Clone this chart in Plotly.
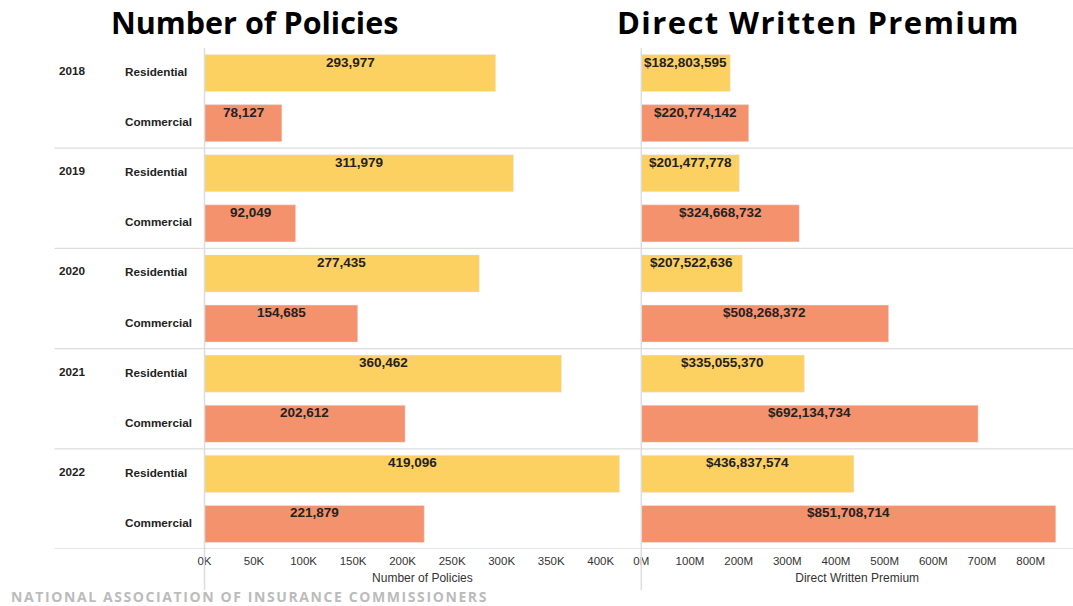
import plotly.graph_objects as go

years = ["2018", "2019", "2020", "2021", "2022"]
types = ["Residential", "Commercial"]
policies = {
    "Residential": [293977, 311979, 277435, 360462, 419096],
    "Commercial": [78127, 92049, 154685, 202612, 221879],
}
premium = {
    "Residential": [182803595, 201477778, 207522636, 335055370, 436837574],
    "Commercial": [220774142, 324668732, 508268372, 692134734, 851708714],
}
pol_tickvals = [0, 50000, 100000, 150000, 200000, 250000, 300000, 350000, 400000]
pol_ticktext = ["0K", "50K", "100K", "150K", "200K", "250K", "300K", "350K", "400K"]
prem_tickvals = [0, 1e8, 2e8, 3e8, 4e8, 5e8, 6e8, 7e8, 8e8]
prem_ticktext = ["0M", "100M", "200M", "300M", "400M", "500M", "600M", "700M", "800M"]
colors = {"Residential": "#FDD062", "Commercial": "#F5926E"}

W, H = 1073, 606
def px(x):
    # horizontal pixel -> paper fraction (with small viewer offset compensation)
    return min(1.0, max(0.0, (x - 7.4) / 0.993 / W))
def py(y): return (H - y) / H

cats = []
for y in years:
    for t in types:
        cats.append(f"{y}|{t}")

fig = go.Figure()
for t in types:
    ycats = [f"{y}|{t}" for y in years]
    fig.add_trace(go.Bar(y=ycats, x=policies[t], orientation="h", marker_color=colors[t],
                         width=0.74, xaxis="x", yaxis="y", showlegend=False, hoverinfo="x"))
    fig.add_trace(go.Bar(y=ycats, x=premium[t], orientation="h", marker_color=colors[t],
                         width=0.74, xaxis="x2", yaxis="y2", showlegend=False, hoverinfo="x"))

ann = []
lab_font = dict(family="Liberation Sans, Arial", size=13.5, color="#222222")
row_font = dict(family="Liberation Sans, Arial", size=11.7, color="#222222")
for t in types:
    for i, y in enumerate(years):
        c = f"{y}|{t}"
        v = policies[t][i]
        ann.append(dict(x=v / 2, y=c, xref="x", yref="y", text=f"<b>{v:,}</b>", showarrow=False,
                        xanchor="center", yanchor="middle", yshift=11, font=lab_font))
        v2 = premium[t][i]
        ann.append(dict(x=v2 / 2, y=c, xref="x2", yref="y2", text=f"<b>${v2:,}</b>", showarrow=False,
                        xanchor="center", yanchor="middle", yshift=11, font=lab_font))
        ann.append(dict(x=px(122), y=c, xref="paper", yref="y", text=f"<b>{t}</b>", showarrow=False,
                        xanchor="left", yanchor="middle", yshift=1.5, font=row_font))
        if t == "Residential":
            ann.append(dict(x=px(56), y=c, xref="paper", yref="y", text=f"<b>{y}</b>", showarrow=False,
                            xanchor="left", yanchor="middle", yshift=2.5, font=row_font))

ann.append(dict(x=px(254), y=py(22), xref="paper", yref="paper", text="<b>Number of Policies</b>",
                xanchor="center", yanchor="middle",
                showarrow=False, font=dict(family="Open Sans", size=30.5, color="#000000")))
ann.append(dict(x=px(818), y=py(22), xref="paper", yref="paper",
                text='<span style="letter-spacing:1.4px"><b>Direct Written Premium</b></span>',
                xanchor="center", yanchor="middle",
                showarrow=False, font=dict(family="Open Sans", size=31, color="#000000")))
ann.append(dict(x=px(8), y=py(596), xref="paper", yref="paper", xanchor="left", yanchor="middle",
                text='<span style="letter-spacing:1.6px"><b>NATIONAL ASSOCIATION OF INSURANCE COMMISSIONERS</b></span>',
                showarrow=False, font=dict(family="Open Sans", size=14, color="#BBBBBB")))

shapes = []
for b in [1.5, 3.5, 5.5, 7.5, 9.5]:
    shapes.append(dict(type="line", xref="paper", yref="y", x0=px(54), x1=1, y0=b, y1=b,
                       line=dict(color="#DDDDDD", width=1.3)))
for xv in [204, 641]:
    shapes.append(dict(type="line", xref="paper", yref="paper", x0=px(xv), x1=px(xv),
                       y0=py(590), y1=py(48), line=dict(color="#DDDDDD", width=1.5)))

tickfont = dict(family="Liberation Sans, Arial", size=11.5, color="#333333")
titlefont = dict(family="Liberation Sans, Arial", size=12, color="#333333")
ydom = [py(549), py(48)]
fig.update_layout(
    width=W, height=H, margin=dict(l=0, r=0, t=0, b=0),
    paper_bgcolor="white", plot_bgcolor="white", bargap=0.26,
    xaxis=dict(domain=[px(204), px(640)], range=[0, 440000], tickvals=pol_tickvals, ticktext=pol_ticktext,
               showgrid=False, zeroline=False, showline=False, tickfont=tickfont, ticks="",
               ticklabelstandoff=3,
               title=dict(text="Number of Policies", font=titlefont, standoff=8), anchor="y", fixedrange=True),
    xaxis2=dict(domain=[px(641), 1], range=[0, 887e6], tickvals=prem_tickvals, ticktext=prem_ticktext,
                showgrid=False, zeroline=False, showline=False, tickfont=tickfont, ticks="",
                ticklabelstandoff=3,
                title=dict(text="Direct Written Premium", font=titlefont, standoff=8), anchor="y2", fixedrange=True),
    yaxis=dict(domain=ydom, type="category", categoryorder="array", categoryarray=cats,
               range=[9.5, -0.5], showticklabels=False, showgrid=False, zeroline=False, anchor="x"),
    yaxis2=dict(domain=ydom, type="category", categoryorder="array", categoryarray=cats,
                range=[9.5, -0.5], showticklabels=False, showgrid=False, zeroline=False, anchor="x2"),
    annotations=ann, shapes=shapes,
)
post = ("document.documentElement.style.margin='0';document.body.style.margin='0';"
        "document.body.style.overflow='hidden';document.documentElement.style.overflow='hidden';"
        "var gd=document.getElementById('{plot_id}');gd.style.position='fixed';"
        "gd.style.left='0px';gd.style.top='0px';")
fig.write_html("out.html", config={"displayModeBar": False}, post_script=post)
